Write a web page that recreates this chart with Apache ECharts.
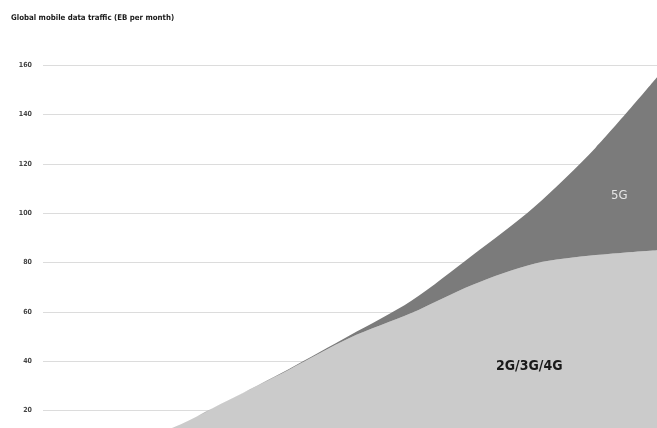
<!DOCTYPE html>
<html><head><meta charset="utf-8">
<script src="https://cdn.jsdelivr.net/npm/echarts@6/dist/echarts.min.js"></script>
<style>html,body{margin:0;padding:0;background:#fff;overflow:hidden;width:657px;height:428px}#c{width:657px;height:460px}</style>
</head><body><div id="c"></div>
<script>
var years = ['2015','2016','2017','2018','2019','2020','2021','2022','2023','2024','2025'];
var legacy = [4, 7, 12, 24, 36.5, 49.5, 59.5, 71, 79.5, 83, 85];
var fiveG = [0, 0, 0, 0, 0.3, 1, 5, 12, 23, 43.5, 70];
var yTicks = [0, 20, 40, 60, 80, 100, 120, 140, 160];
var seriesNames = ['2G/3G/4G', '5G'];

var font = '"Liberation Sans Narrow","DejaVu Sans Condensed","Roboto Condensed",sans-serif';
var chart = echarts.init(document.getElementById('c'));
chart.setOption({
  animation: false,
  title: {
    text: 'Global mobile data traffic (EB per month)',
    left: 11, top: 14, padding: 0,
    textStyle: {fontSize: 7.8, fontWeight: 'bold', color: '#1a1a1a', fontFamily: font}
  },
  grid: {left: 43, right: 0, top: 65, bottom: 0, containLabel: false},
  xAxis: {
    type: 'category', data: years, boundaryGap: false,
    axisLine: {show: false}, axisTick: {show: false}, axisLabel: {show: false}
  },
  yAxis: {
    type: 'value', min: yTicks[0], max: yTicks[yTicks.length - 1], interval: 20,
    axisLine: {show: false}, axisTick: {show: false},
    splitLine: {lineStyle: {color: '#dcdcdc', width: 1}},
    axisLabel: {
      margin: 11, fontSize: 7, fontWeight: 'bold', color: '#444', fontFamily: font,
      formatter: function (v) { return v === 0 ? '' : String(v); }
    }
  },
  series: [
    {
      name: seriesNames[0], type: 'line', stack: 't', data: legacy, smooth: 0.3,
      showSymbol: false, lineStyle: {width: 0}, areaStyle: {color: '#cbcbcb', opacity: 1}
    },
    {
      name: seriesNames[1], type: 'line', stack: 't', data: fiveG, smooth: 0.3,
      showSymbol: false, lineStyle: {width: 0}, areaStyle: {color: '#7b7b7b', opacity: 1}
    }
  ],
  graphic: [
    {type: 'text', z: 100, left: 611, top: 189, style: {text: seriesNames[1], fontSize: 13, fill: '#e6e6e6', fontFamily: font}},
    {type: 'text', z: 100, left: 496, top: 359, style: {text: seriesNames[0], fontSize: 14, fontWeight: 'bold', fill: '#1a1a1a', fontFamily: font}}
  ]
});
</script></body></html>
